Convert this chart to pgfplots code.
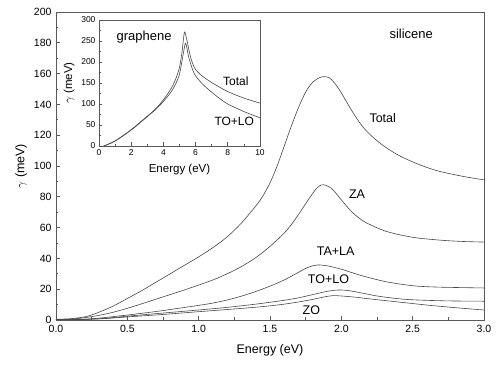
\documentclass[border=0pt]{standalone}
\usepackage{fontspec}
\setmainfont{Liberation Sans}
\usepackage{pgfplots}
\pgfplotsset{compat=1.18}
\definecolor{curve}{gray}{0.28}
\definecolor{frame}{gray}{0.35}
\begin{document}
\begin{tikzpicture}
\path[use as bounding box] (-56pt,-47pt) rectangle (443pt,320pt);
\begin{axis}[name=main, at={(0pt,0pt)}, anchor=south west,
  scale only axis, width=428pt, height=308pt,
  xmin=0, xmax=3, ymin=0, ymax=200,
  xtick={0,0.5,1,1.5,2,2.5,3}, ytick={0,20,...,200},
  minor x tick num=1, minor y tick num=1,
  xtick pos=bottom, ytick pos=left, tick align=inside,
  major tick length=4pt, minor tick length=2.5pt,
  axis line style={frame, line width=0.6pt},
  every tick/.style={frame, line width=0.6pt},
  /pgf/number format/assume math mode=true,
  xticklabel style={yshift=-1.5pt, /pgf/number format/.cd, fixed, fixed zerofill, precision=1},
  yticklabel style={xshift=-1pt},
  ticklabel style={font=\fontsize{10.5}{12}\selectfont},
  xlabel={Energy (eV)}, ylabel={$\gamma$ (meV)},
  xlabel style={yshift=-5pt},
  label style={font=\fontsize{12.5}{14}\selectfont},
  cycle list={curve\\},
  every axis plot/.append style={line width=0.6pt, smooth, mark=none},
]
% Total
\addplot coordinates {(0,0.5) (0.1,0.8) (0.2,2) (0.25,3.3) (0.3,5) (0.4,9) (0.5,14) (0.6,19) (0.7,24.5) (0.8,30) (0.9,35.5) (1.0,41) (1.1,47) (1.2,54) (1.3,63) (1.4,74) (1.45,80.5) (1.5,89) (1.55,100) (1.6,113) (1.65,126) (1.7,138) (1.75,148) (1.8,154.5) (1.85,157.5) (1.885,158) (1.92,157) (1.96,153) (2.0,147.5) (2.05,139.5) (2.1,132) (2.15,125.5) (2.2,120.5) (2.29,113.5) (2.4,107) (2.53,101.5) (2.65,97.5) (2.76,95) (2.88,92.8) (3.0,91)};
% ZA
\addplot coordinates {(0,0.3) (0.1,0.5) (0.2,1.5) (0.3,3) (0.4,5) (0.5,7.6) (0.6,10.5) (0.7,13.5) (0.8,16.5) (0.9,19.5) (1.0,22.7) (1.1,26) (1.2,30) (1.3,34.7) (1.4,40.5) (1.5,47.8) (1.6,56.5) (1.65,62) (1.7,68.5) (1.75,75.5) (1.8,82.3) (1.83,85.8) (1.86,87.7) (1.89,87.5) (1.93,85.5) (1.97,81.5) (2.0,78) (2.06,71.5) (2.1,68) (2.15,64.5) (2.2,62) (2.3,58) (2.4,55.5) (2.53,53.3) (2.7,51.8) (2.85,51) (3.0,50.6)};
% TA+LA
\addplot coordinates {(0,0) (0.2,0.5) (0.3,1.2) (0.5,3.2) (0.7,5.5) (0.8,6.8) (1.0,9.5) (1.1,11) (1.2,13) (1.3,15.5) (1.4,18.5) (1.5,22) (1.6,26) (1.7,31) (1.77,34.3) (1.83,35.7) (1.9,35.2) (2.0,33) (2.06,31.2) (2.15,28.6) (2.29,25.3) (2.4,23.5) (2.53,22) (2.7,21.3) (3.0,20.8)};
% TO+LO
\addplot coordinates {(0,0) (0.3,0.8) (0.5,2.5) (0.75,4.5) (1.0,6.5) (1.2,8.2) (1.4,10.3) (1.5,11.5) (1.6,12.8) (1.7,14.4) (1.8,16.5) (1.9,18.6) (1.98,19.5) (2.05,19.1) (2.15,17.4) (2.25,15.6) (2.4,13.8) (2.53,13) (2.75,12.4) (3.0,12.2)};
% ZO
\addplot coordinates {(0,0) (0.3,0.7) (0.5,2) (0.75,3.6) (1.0,5.4) (1.2,6.8) (1.4,8.3) (1.5,9.2) (1.6,10.3) (1.7,11.7) (1.8,13.4) (1.88,15) (1.94,15.8) (2.0,15.6) (2.1,14.8) (2.2,13.7) (2.41,11.6) (2.6,9.7) (2.8,8) (3.0,6.5)};
\node[font=\fontsize{13}{15}\selectfont] at (axis cs:2.49,186) {silicene};
\node[font=\fontsize{12.5}{14}\selectfont] at (axis cs:2.29,131) {Total};
\node[font=\fontsize{12.5}{14}\selectfont] at (axis cs:2.11,82) {ZA};
\node[font=\fontsize{12.5}{14}\selectfont] at (axis cs:1.96,44.8) {TA+LA};
\node[font=\fontsize{12.5}{14}\selectfont] at (axis cs:1.91,26.4) {TO+LO};
\node[font=\fontsize{12.5}{14}\selectfont] at (axis cs:1.79,6.5) {ZO};
\end{axis}
\begin{axis}[name=inset, at={(43pt,174pt)}, anchor=south west,
  scale only axis, width=161pt, height=126pt,
  xmin=0, xmax=10, ymin=0, ymax=300,
  xtick={0,2,...,10}, ytick={0,50,...,300},
  minor x tick num=1, minor y tick num=1,
  xtick pos=bottom, ytick pos=left, tick align=inside,
  major tick length=3.5pt, minor tick length=2pt,
  axis background/.style={fill=white},
  axis line style={frame, line width=0.6pt},
  every tick/.style={frame, line width=0.6pt},
  /pgf/number format/assume math mode=true,
  ticklabel style={font=\fontsize{8.5}{10}\selectfont},
  xlabel={Energy (eV)}, ylabel={$\gamma$ (meV)},
  xlabel style={yshift=-2pt},
  label style={font=\fontsize{11.5}{13}\selectfont},
  cycle list={curve\\},
  every axis plot/.append style={line width=0.6pt, smooth, mark=none},
]
% Total
\addplot coordinates {(0.3,0) (1,12) (2,38) (3,70) (3.5,88) (4,110) (4.5,138) (4.8,163) (5.0,188) (5.15,222) (5.3,270) (5.4,262) (5.5,245) (5.6,226) (5.7,210) (5.85,193) (6.0,182) (6.25,172) (6.5,164) (7,151) (7.5,140) (8,129.5) (9,114) (10,102)};
% TO+LO
\addplot coordinates {(0.3,0) (1,12) (2,39) (3,71) (3.5,86) (4,106) (4.5,130) (4.8,151) (5.0,171) (5.2,212) (5.36,244) (5.45,235) (5.55,215) (5.7,195) (5.85,178) (6.0,167) (6.25,155) (6.5,145) (7,128) (7.5,113) (8,100) (9,82) (10,67)};
\node[font=\fontsize{13}{15}\selectfont] at (axis cs:2.8,259) {graphene};
\node[font=\fontsize{12}{14}\selectfont] at (axis cs:8.5,155) {Total};
\node[font=\fontsize{12}{14}\selectfont] at (axis cs:8.4,58) {TO+LO};
\end{axis}
\end{tikzpicture}
\end{document}
